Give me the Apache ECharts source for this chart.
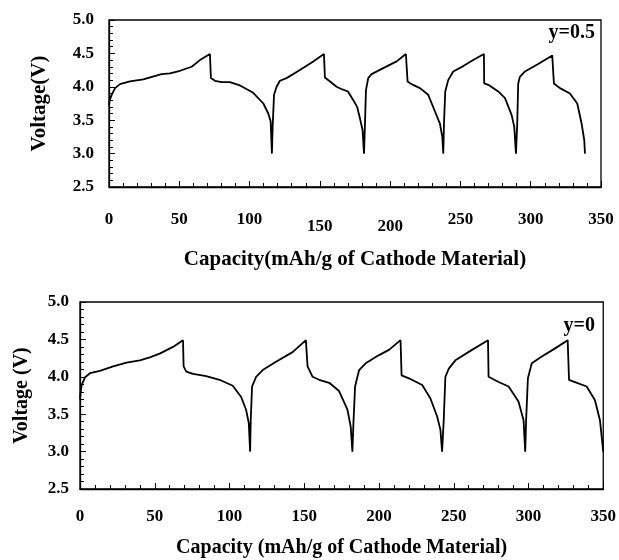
<!DOCTYPE html>
<html>
<head>
<meta charset="utf-8">
<script src="https://cdn.jsdelivr.net/npm/echarts@6/dist/echarts.min.js"></script>
<style>
html,body{margin:0;padding:0;background:#fff;}
#chart{width:619px;height:560px;}
</style>
</head>
<body>
<div id="chart"></div>
<script>
// ---- Data ----
var xTicks = [0, 50, 100, 150, 200, 250, 300, 350];
var yTicks = [2.5, 3.0, 3.5, 4.0, 4.5, 5.0];

// Panel 1: y=0.5
var capA = [0,0.5,1.9,4.3,7.8,14.9,24.4,37.4,43.4,50.5,58.8,64.7,71.8,72.5,75.4,80.1,86,93.2,102.6,109.8,113.3,115,115.9,
  116.4,117.4,119.2,121.6,126.3,135.8,145.3,152.9,153.6,157.2,161.9,166,170,173.8,176.5,178.5,180.4,181.4,
  182.1,182.8,184.4,186.8,195.1,204.6,211.2,212.4,215.2,221.2,227.1,231.9,235.4,237.1,237.8,
  238.3,239.2,241.3,244.9,252,259.1,266.7,266.9,269.8,276.9,281.7,286.4,288.3,289.5,
  290.4,291.1,292.3,295.9,305.3,315.3,316.5,320.8,327.9,333.1,336.2,338.1,338.6];
var voltA = [3.72,3.80,3.88,3.98,4.04,4.08,4.11,4.19,4.20,4.24,4.30,4.40,4.49,4.13,4.09,4.07,4.07,4.02,3.91,3.75,3.60,3.48,3.00,
  3.40,3.88,4.00,4.09,4.13,4.25,4.38,4.49,4.14,4.08,4.00,3.96,3.93,3.80,3.70,3.53,3.35,3.00,
  3.45,3.95,4.13,4.19,4.28,4.38,4.49,4.08,4.04,3.98,3.88,3.63,3.45,3.25,3.00,
  3.45,3.93,4.10,4.23,4.31,4.40,4.49,4.05,4.03,3.93,3.83,3.58,3.40,3.00,
  3.45,4.05,4.15,4.23,4.34,4.47,4.05,3.98,3.90,3.75,3.45,3.20,3.00];

// Panel 2: y=0
var capB = [0,0.5,1.1,3.3,6.7,13.3,22.2,31.1,40,46.7,53.3,62.2,68.9,69.3,71.1,75.6,84.4,93.3,102.2,107.8,111.1,112.9,113.8,
  114.2,115.1,117.8,122.2,131.1,142.2,151.1,152.2,155.6,160,166.7,173.3,178.9,181.1,182.2,
  182.9,184,186.7,191.1,200,206.7,214.4,215.1,220,228.9,234.4,238.9,241.1,242.2,
  243.3,244.4,246.7,251.1,262.2,272.9,273.3,280,286.7,293.3,296.7,297.8,
  298.4,299.6,302.2,308.9,317.8,326.2,327.1,331.1,338.9,344.4,347.8,350];
var voltB = [3.70,3.80,3.89,3.99,4.05,4.08,4.14,4.19,4.22,4.26,4.31,4.40,4.49,4.14,4.07,4.04,4.01,3.96,3.88,3.73,3.56,3.38,3.00,
  3.42,3.87,4.00,4.09,4.20,4.33,4.49,4.14,4.00,3.96,3.92,3.81,3.56,3.33,3.00,
  3.38,3.87,4.09,4.18,4.29,4.36,4.49,4.02,3.98,3.89,3.71,3.47,3.29,3.00,
  3.42,4.00,4.11,4.22,4.36,4.49,4.00,3.93,3.87,3.67,3.42,3.00,
  3.42,3.98,4.18,4.27,4.38,4.49,3.96,3.93,3.87,3.69,3.42,3.00];

var labelA = 'y=0.5';
var labelB = 'y=0';
var xTitleA = 'Capacity(mAh/g of Cathode Material)';
var xTitleB = 'Capacity (mAh/g of Cathode Material)';
var yTitleA = 'Voltage(V)';
var yTitleB = 'Voltage (V)';

function zip(xs, ys){ return xs.map(function(x,i){ return [x, ys[i]]; }); }

var FONT = '"Liberation Serif","Times New Roman",serif';
var tickFont = {color:'#000', fontFamily:FONT, fontWeight:'bold', fontSize:17};
function nameFont(size){ return {color:'#000', fontFamily:FONT, fontWeight:'bold', fontSize:size}; }

function xAxisCfg(gridIndex, margin, name, gap, size, rich){
  var lab = Object.assign({margin:margin}, tickFont);
  if (rich) {
    lab.formatter = function(v){ return (v===150||v===200) ? '{lo|'+v+'}' : '{n|'+v+'}'; };
    lab.rich = {
      n: Object.assign({}, tickFont),
      lo: Object.assign({padding:[7,0,0,0]}, tickFont)
    };
  }
  return {
    type:'value', gridIndex:gridIndex, min:xTicks[0], max:xTicks[xTicks.length-1], interval:xTicks[1]-xTicks[0],
    axisLine:{show:true, onZero:false, lineStyle:{color:'#000', width:1.3}},
    axisTick:{show:true, inside:true, length:6, lineStyle:{color:'#000', width:1}},
    minorTick:{show:true, splitNumber:5, length:4, lineStyle:{color:'#000', width:1}},
    splitLine:{show:false},
    axisLabel:lab,
    name:name, nameLocation:'middle', nameGap:gap, nameTextStyle:nameFont(size)
  };
}
function yAxisCfg(gridIndex, margin, name, gap, size){
  return {
    type:'value', gridIndex:gridIndex, min:yTicks[0], max:yTicks[yTicks.length-1], interval:yTicks[1]-yTicks[0],
    axisLine:{show:true, onZero:false, lineStyle:{color:'#000', width:1.3}},
    axisTick:{show:true, inside:true, length:6, lineStyle:{color:'#000', width:1}},
    minorTick:{show:true, splitNumber:5, length:4, lineStyle:{color:'#000', width:1}},
    splitLine:{show:false},
    axisLabel:Object.assign({margin:margin, formatter:function(v){return v.toFixed(1);}}, tickFont),
    name:name, nameLocation:'middle', nameGap:gap, nameRotate:90, nameTextStyle:nameFont(size)
  };
}

var chart = echarts.init(document.getElementById('chart'), null, {renderer:'canvas'});
chart.setOption({
  animation:false,
  backgroundColor:'#fff',
  grid:[
    {left:109, right:18, top:20, height:167, show:true, borderColor:'#000', borderWidth:1.3, backgroundColor:'transparent'},
    {left:80, right:14, top:302, height:187, show:true, borderColor:'#000', borderWidth:1.3, backgroundColor:'transparent'}
  ],
  xAxis:[ xAxisCfg(0, 24, xTitleA, 62, 21, true), xAxisCfg(1, 19, xTitleB, 49, 20, false) ],
  yAxis:[ yAxisCfg(0, 15, yTitleA, 59, 21), yAxisCfg(1, 11, yTitleB, 48, 20) ],
  graphic:[
    {type:'text', right:24, top:23, style:{text:labelA, fill:'#000', font:'bold 20px "Liberation Serif", serif'}},
    {type:'text', right:24, top:316, style:{text:labelB, fill:'#000', font:'bold 20px "Liberation Serif", serif'}}
  ],
  series:[
    {type:'line', xAxisIndex:0, yAxisIndex:0, data:zip(capA, voltA), showSymbol:false, symbol:'none',
     lineStyle:{color:'#000', width:1.8}, clip:false},
    {type:'line', xAxisIndex:1, yAxisIndex:1, data:zip(capB, voltB), showSymbol:false, symbol:'none',
     lineStyle:{color:'#000', width:1.8}, clip:false}
  ]
});
</script>
</body>
</html>
